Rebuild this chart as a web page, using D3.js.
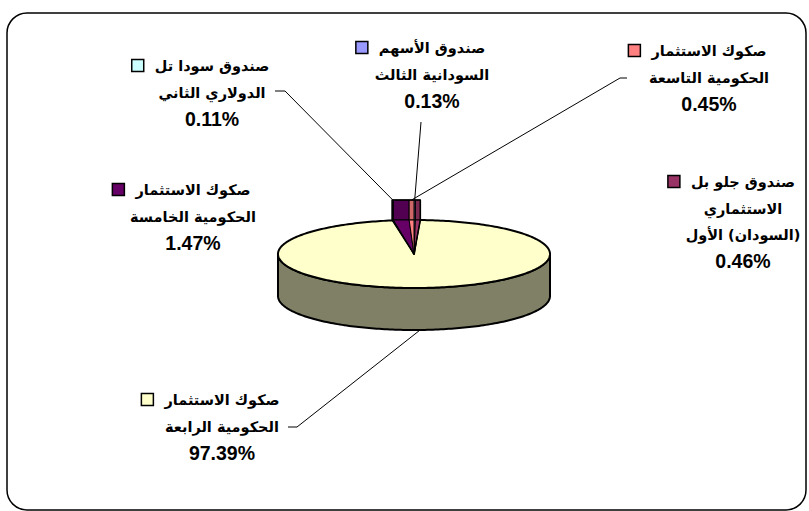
<!DOCTYPE html>
<html>
<head>
<meta charset="utf-8">
<title>Pie 3D</title>
<script src="https://cdnjs.cloudflare.com/ajax/libs/d3/7.8.5/d3.min.js"></script>
<style>
  body { margin: 0; background: #fff; }
  svg text { font-family: "Liberation Sans", "DejaVu Sans", Arial, sans-serif; font-weight: bold; fill: #000; }
  svg text.name { font-family: "DejaVu Sans", sans-serif; font-size: 14.5px; }
  svg text.pct { font-size: 19.5px; }
</style>
</head>
<body>
<div id="chart"></div>
<script>
// data, in the order Excel drew the slices (clockwise from 12 o'clock)
var nameLines = [
  ["صندوق الأسهم", "السودانية الثالث"],
  ["صندوق جلو بل", "الاستثماري", "(السودان) الأول"],
  ["صكوك الاستثمار", "الحكومية الرابعة"],
  ["صندوق سودا تل", "الدولاري الثاني"],
  ["صكوك الاستثمار", "الحكومية الخامسة"],
  ["صكوك الاستثمار", "الحكومية التاسعة"]
];
var values = [0.13, 0.46, 97.39, 0.11, 1.47, 0.45];
var colors = ["#9999FF", "#993366", "#FFFFCC", "#CCFFFF", "#660066", "#FF8080"];

// where Excel put each label (center x, first line y) and its leader line end
var labelPos = [
  {x: 432, y: 48, lead: [[421, 122]]},
  {x: 743, y: 182, lead: null},
  {x: 222, y: 400, lead: [[288, 427], [297, 427]]},
  {x: 212, y: 66, lead: [[275, 91], [285, 91]]},
  {x: 193, y: 190, lead: null},
  {x: 709, y: 51, lead: [[627, 78], [620, 78]]}
];

var width = 809, height = 511;
var cx = 414, cy = 254, rx = 136, ry = 34, depth = 42;
var lift = 20, wedgeR = rx * 1.26;
var lineH = 26.5;

var svg = d3.select("#chart").append("svg")
    .attr("width", width)
    .attr("height", height);

var pie = d3.pie().sort(null).value(function(d) { return d; });
var arcs = pie(values);
arcs.forEach(function(a, i) { a.i = i; });

var px = function(a, r) { return cx + (r || rx) * Math.sin(a); };
var py = function(a) { return cy - ry * Math.cos(a); };
var line = d3.line();

function ellipsePts(a0, a1, dy) {
  var n = Math.max(2, Math.ceil(Math.abs(a1 - a0) / 0.02));
  return d3.range(n + 1).map(function(k) {
    var a = a0 + (a1 - a0) * k / n;
    return [px(a), py(a) + (dy || 0)];
  });
}

var big = arcs.filter(function(a) { return a.value > 50; });
var small = arcs.filter(function(a) { return a.value <= 50; });

// side wall of the big slice (front half)
big.forEach(function(a) {
  var s = Math.max(a.startAngle, Math.PI / 2), e = Math.min(a.endAngle, Math.PI * 1.5);
  var pts = ellipsePts(s, e, 0).concat(ellipsePts(e, s, depth));
  svg.append("path")
      .attr("d", line(pts) + "Z")
      .attr("fill", "#808066")
      .attr("stroke", "#000")
      .attr("stroke-width", 2);
});

// top face of the big slice
big.forEach(function(a) {
  var pts = [[cx, cy]].concat(ellipsePts(a.startAngle, a.endAngle, 0));
  svg.append("path")
      .attr("d", line(pts) + "Z")
      .attr("fill", colors[a.i])
      .attr("stroke", "#000")
      .attr("stroke-width", 2)
      .attr("stroke-linejoin", "round");
});

// the small slices, pulled out at the back
function wedgeX(a) {
  var t = a > Math.PI ? a - 2 * Math.PI : a;
  return px(t, wedgeR);
}
var yb = cy - ry, yt = cy - ry - lift;
small.forEach(function(a) {
  var x0 = wedgeX(a.startAngle), x1 = wedgeX(a.endAngle);
  svg.append("path")
      .attr("d", line([[x0, yb], [x0, yt], [x1, yt], [x1, yb]]) + "Z")
      .attr("fill", d3.color(colors[a.i]).darker(0.6))
      .attr("stroke", "#000")
      .attr("stroke-width", 1);
  svg.append("path")
      .attr("d", line([[cx, cy], [x0, yb], [x1, yb]]) + "Z")
      .attr("fill", colors[a.i])
      .attr("stroke", "#000")
      .attr("stroke-width", 1);
});
// outline round the pulled-out group
var xs = d3.extent(small, function(a) { return wedgeX(a.startAngle); })
    .concat(d3.extent(small, function(a) { return wedgeX(a.endAngle); }));
var gx0 = d3.min(xs), gx1 = d3.max(xs);
svg.append("path")
    .attr("d", line([[cx, cy], [gx0, yb], [gx0, yt], [gx1, yt], [gx1, yb]]) + "Z")
    .attr("fill", "none")
    .attr("stroke", "#000")
    .attr("stroke-width", 1.5)
    .attr("stroke-linejoin", "round");

// leader lines
arcs.forEach(function(a) {
  var lp = labelPos[a.i];
  if (!lp.lead) return;
  var mid = (a.startAngle + a.endAngle) / 2, end;
  if (a.value > 50) end = [px(mid), py(mid) + depth];
  else end = [wedgeX(mid), yt];
  svg.append("path")
      .attr("d", line(lp.lead.concat([end])))
      .attr("fill", "none")
      .attr("stroke", "#000")
      .attr("stroke-width", 1);
});

// labels
arcs.forEach(function(a) {
  var lp = labelPos[a.i];
  var g = svg.append("g");
  var lines = nameLines[a.i].concat([d3.format(".2f")(a.value) + "%"]);
  var first;
  lines.forEach(function(t, k) {
    var last = k === lines.length - 1;
    var txt = g.append("text")
        .attr("class", last ? "pct" : "name")
        .attr("x", lp.x)
        .attr("y", lp.y + k * lineH)
        .attr("dy", "0.35em")
        .attr("text-anchor", "middle")
        .attr("direction", last ? "ltr" : "rtl")
        .text(t);
    if (k === 0) first = txt;
  });
  var w = first.node().getComputedTextLength();
  g.append("rect")
      .attr("x", lp.x - w / 2 - 23)
      .attr("y", lp.y - 6.5)
      .attr("width", 12)
      .attr("height", 12)
      .attr("fill", colors[a.i])
      .attr("stroke", "#000")
      .attr("stroke-width", 1.5);
});

// chart frame
svg.append("rect")
    .attr("x", 7)
    .attr("y", 13)
    .attr("width", 799)
    .attr("height", 497)
    .attr("rx", 20)
    .attr("fill", "none")
    .attr("stroke", "#000")
    .attr("stroke-width", 1.5);
</script>
</body>
</html>
